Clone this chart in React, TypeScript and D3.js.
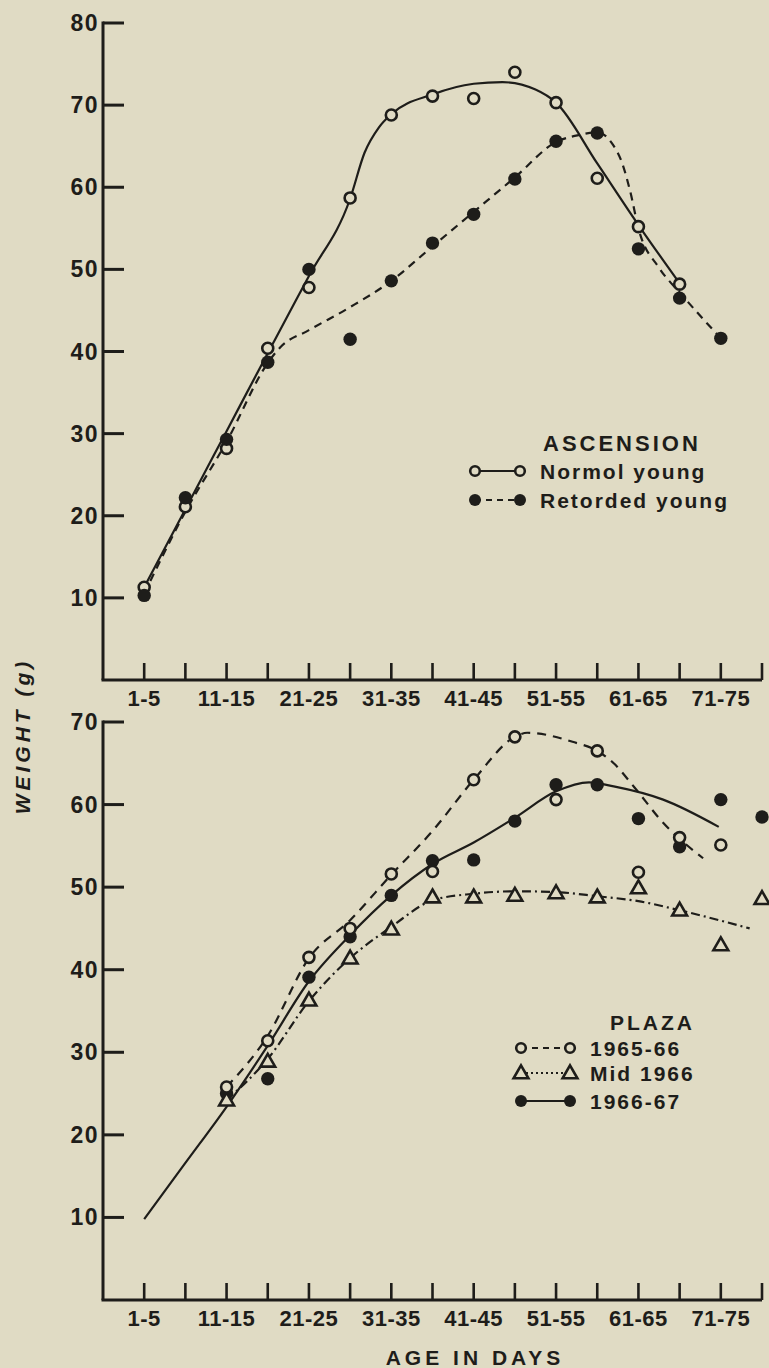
import * as d3 from "d3";

const W = 769;
const H = 1368;
const BG = "#e0dbc4";
const INK = "#1e1d1a";
const FONT = "'Liberation Sans', Arial, sans-serif";

// 5-day age classes (index 0 = 1-5 days)
const ageBins = [
  "1-5", "6-10", "11-15", "16-20", "21-25", "26-30", "31-35", "36-40",
  "41-45", "46-50", "51-55", "56-60", "61-65", "66-70", "71-75", "76-80",
];
const tickLabels = ["1-5", "11-15", "21-25", "31-35", "41-45", "51-55", "61-65", "71-75"];

// ASCENSION (weights from age class 1-5 onward)
const ascNormal = [11.3, 21.1, 28.2, 40.4, 47.8, 58.7, 68.8, 71.1, 70.8, 74.0, 70.3, 61.1, 55.2, 48.2];
const ascRetarded = [10.3, 22.2, 29.3, 38.7, 50.0, 41.5, 48.6, 53.2, 56.7, 61.0, 65.6, 66.6, 52.5, 46.5, 41.6];

// hand-fitted curves, [age class, weight]
const ascNormalFit: [number, number][] = [
  [0, 11.3], [1, 20.8], [2, 30.3], [3, 39.8], [4, 49.2], [5, 58.6], [5.35, 64.2], [5.7, 67.3],
  [6, 68.9], [7, 71.3], [8, 72.6], [8.7, 72.8], [9.5, 71.9], [10, 70.3], [11, 62.9], [12, 55.4], [13, 48.3],
];
const ascRetardedFit: [number, number][] = [
  [0, 10.5], [1, 20.5], [2, 29.0], [3, 38.6], [3.3, 40.5], [4, 42.6], [5, 45.4], [6, 48.6],
  [7, 52.8], [8, 57.0], [9, 61.2], [10, 65.5], [10.6, 66.4], [11, 66.7], [11.35, 65.4], [11.6, 63.0],
  [11.8, 59.5], [12, 55.0], [12.5, 50.2], [13, 47.2], [14, 41.6],
];

// PLAZA (weights from age class 11-15 onward)
const plazaFirstBin = 2;
const plaza6566 = [25.8, 31.4, 41.5, 45.0, 51.6, 51.9, 63.0, 68.2, 60.6, 66.5, 51.8, 56.0, 55.1];
const plazaMid66 = [24.2, 28.9, 36.3, 41.4, 44.9, 48.8, 48.8, 49.0, 49.3, 48.8, 49.9, 47.2, 43.0, 48.6];
const plaza6667 = [25.0, 26.8, 39.1, 44.0, 49.0, 53.2, 53.3, 58.0, 62.4, 62.4, 58.3, 54.9, 60.6, 58.5];

const plaza6566Fit: [number, number][] = [
  [2, 25.8], [3, 32.0], [4, 41.4], [5, 46.0], [6, 51.5], [7, 56.8], [8, 63.0], [9, 68.2],
  [9.3, 68.7], [10.4, 67.6], [11, 66.5], [11.4, 65.0], [11.9, 62.1], [12.6, 57.8], [13.57, 53.5],
];
const plazaMid66Fit: [number, number][] = [
  [2, 24.2], [3, 29.2], [4, 36.2], [5, 41.4], [6, 45.2], [7, 48.4], [8, 49.2], [9, 49.5],
  [10, 49.4], [11, 48.9], [12, 48.3], [13, 47.2], [14.7, 45.0],
];
const plaza6667Fit: [number, number][] = [
  [0, 9.8], [1, 16.6], [2, 23.4], [3, 30.8], [4, 38.6], [5, 44.2], [6, 49.0], [7, 52.8],
  [8, 55.4], [9, 58.4], [10, 61.6], [10.8, 62.7], [11.4, 62.2], [12.6, 60.6], [13.95, 57.3],
];

const topTicks = [10, 20, 30, 40, 50, 60, 70, 80];
const bottomTicks = [10, 20, 30, 40, 50, 60, 70];

const x = d3.scaleLinear().domain([-1, 15]).range([103, 762]);
const yTop = d3.scaleLinear().domain([0, 80]).range([680, 23]);
const yBot = d3.scaleLinear().domain([0, 70]).range([1300, 722]);

function Axes({ y, ticks }: { y: d3.ScaleLinear<number, number>; ticks: number[] }) {
  const y0 = y(0);
  const yTopEnd = y(ticks[ticks.length - 1]);
  return (
    <g stroke={INK} strokeWidth={3} fill="none">
      <line x1={x(-1)} x2={x(-1)} y1={yTopEnd - 1.5} y2={y0} />
      <line x1={x(-1) - 1.5} x2={x(15)} y1={y0} y2={y0} />
      {ticks.map((t) => (
        <g key={t}>
          <line x1={x(-1)} x2={x(-1) + 21} y1={y(t)} y2={y(t)} />
          <text
            x={x(-1) - 4}
            y={y(t)}
            textAnchor="end"
            dominantBaseline="central"
            fill={INK}
            stroke="none"
            fontFamily={FONT}
            fontWeight="bold"
            fontSize={23}
            letterSpacing={1.5}
          >
            {t}
          </text>
        </g>
      ))}
      {ageBins.map((b, i) => (
        <line key={b} x1={x(i)} x2={x(i)} y1={y0} y2={y0 - 17} strokeWidth={2.6} />
      ))}
      {tickLabels.map((l) => (
        <text
          key={l}
          x={x(ageBins.indexOf(l))}
          y={y0 + 18}
          textAnchor="middle"
          dominantBaseline="central"
          fill={INK}
          stroke="none"
          fontFamily={FONT}
          fontWeight="bold"
          fontSize={22}
          letterSpacing={0.5}
        >
          {l}
        </text>
      ))}
    </g>
  );
}

const tri = d3.symbol().type(d3.symbolTriangle).size(95)() as string;

function Marker({ kind, cx, cy, small }: { kind: string; cx: number; cy: number; small?: boolean }) {
  if (kind === "open")
    return <circle cx={cx} cy={cy} r={small ? 4.8 : 5.5} fill={BG} stroke={INK} strokeWidth={2.6} />;
  if (kind === "filled") return <circle cx={cx} cy={cy} r={small ? 6 : 6.7} fill={INK} />;
  return (
    <path d={tri} transform={`translate(${cx},${cy + 1})`} fill={BG} stroke={INK} strokeWidth={2.6} strokeLinejoin="miter" />
  );
}

function Curve({ pts, y, dash }: { pts: [number, number][]; y: d3.ScaleLinear<number, number>; dash?: string }) {
  const line = d3
    .line<[number, number]>()
    .x((d) => x(d[0]))
    .y((d) => y(d[1]))
    .curve(d3.curveMonotoneX);
  return <path d={line(pts) || ""} fill="none" stroke={INK} strokeWidth={2.2} strokeDasharray={dash} />;
}

function Points({ vals, first, y, kind }: { vals: number[]; first: number; y: d3.ScaleLinear<number, number>; kind: string }) {
  return (
    <g>
      {vals.map((v, i) => (
        <Marker key={i} kind={kind} cx={x(first + i)} cy={y(v)} />
      ))}
    </g>
  );
}

function LegendRow({
  x0, x1, cy, kind, dash, label,
}: { x0: number; x1: number; cy: number; kind: string; dash?: string; label: string }) {
  return (
    <g>
      <line x1={x0} x2={x1} y1={cy} y2={cy} stroke={INK} strokeWidth={2.2} strokeDasharray={dash} />
      <Marker kind={kind} cx={x0} cy={cy} small />
      <Marker kind={kind} cx={x1} cy={cy} small />
      <text
        x={x1 + 20}
        y={cy}
        dominantBaseline="central"
        fill={INK}
        fontFamily={FONT}
        fontWeight="bold"
        fontSize={21}
        letterSpacing={2}
      >
        {label}
      </text>
    </g>
  );
}

export default function App() {
  return (
    <svg width={W} height={H} style={{ position: "absolute", left: 0, top: 0, display: "block" }}>
      <rect width={W} height={H} fill={BG} />

      {/* ASCENSION panel */}
      <Axes y={yTop} ticks={topTicks} />
      <Curve pts={ascNormalFit} y={yTop} />
      <Curve pts={ascRetardedFit} y={yTop} dash="8,6" />
      <Points vals={ascNormal} first={0} y={yTop} kind="open" />
      <Points vals={ascRetarded} first={0} y={yTop} kind="filled" />

      <text x={543} y={443} dominantBaseline="central" fill={INK} fontFamily={FONT} fontWeight="bold" fontSize={22} letterSpacing={3}>
        ASCENSION
      </text>
      <LegendRow x0={475} x1={520} cy={471} kind="open" label="Normol young" />
      <LegendRow x0={475} x1={520} cy={500} kind="filled" dash="6,5" label="Retorded young" />

      {/* PLAZA panel */}
      <Axes y={yBot} ticks={bottomTicks} />
      <Curve pts={plaza6667Fit} y={yBot} />
      <Curve pts={plaza6566Fit} y={yBot} dash="9,7" />
      <Curve pts={plazaMid66Fit} y={yBot} dash="9,4,2,4" />
      <Points vals={plaza6667} first={plazaFirstBin} y={yBot} kind="filled" />
      <Points vals={plazaMid66} first={plazaFirstBin} y={yBot} kind="tri" />
      <Points vals={plaza6566} first={plazaFirstBin} y={yBot} kind="open" />

      <text x={610} y={1022} dominantBaseline="central" fill={INK} fontFamily={FONT} fontWeight="bold" fontSize={21} letterSpacing={3}>
        PLAZA
      </text>
      <LegendRow x0={521} x1={570} cy={1048} kind="open" dash="6,5" label="1965-66" />
      <LegendRow x0={521} x1={570} cy={1073} kind="tri" dash="2,3" label="Mid 1966" />
      <LegendRow x0={521} x1={570} cy={1101} kind="filled" label="1966-67" />

      {/* shared labels */}
      <text
        transform="translate(22,736) rotate(-90)"
        textAnchor="middle"
        dominantBaseline="central"
        fill={INK}
        fontFamily={FONT}
        fontWeight="bold"
        fontStyle="italic"
        fontSize={21}
        letterSpacing={4}
      >
        WEIGHT (g)
      </text>
      <text
        x={475}
        y={1357}
        textAnchor="middle"
        dominantBaseline="central"
        fill={INK}
        fontFamily={FONT}
        fontWeight="bold"
        fontSize={21}
        letterSpacing={4}
      >
        AGE IN DAYS
      </text>
    </svg>
  );
}
